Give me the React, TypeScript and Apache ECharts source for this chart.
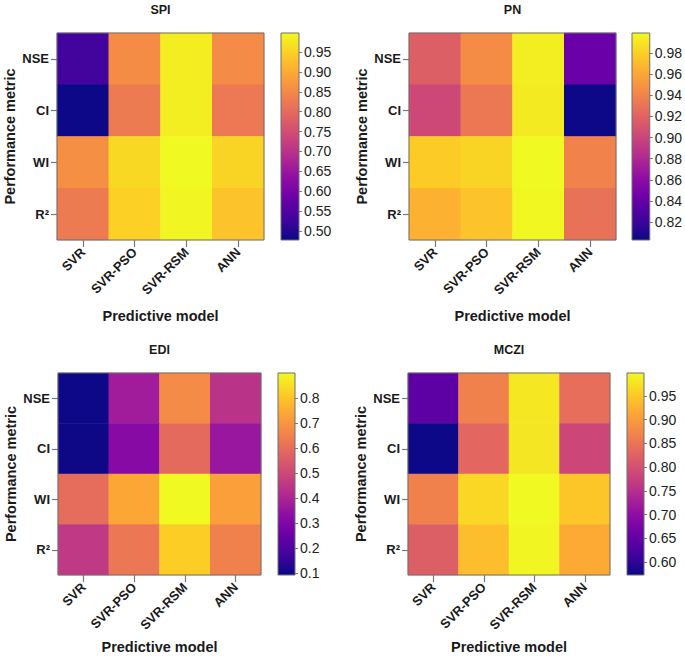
import React, { useEffect, useRef } from "react";
import * as echarts from "echarts";

const models = ["SVR", "SVR-PSO", "SVR-RSM", "ANN"];
const metrics = ["NSE", "CI", "WI", "R²"];

// rows follow metrics (NSE, CI, WI, R²), columns follow models
const spiValues = [
  [0.53, 0.854, 0.984, 0.852],
  [0.477, 0.827, 0.985, 0.822],
  [0.859, 0.958, 0.998, 0.953],
  [0.827, 0.948, 0.993, 0.932],
];
const pnValues = [
  [0.917, 0.945, 0.994, 0.842],
  [0.902, 0.933, 0.992, 0.803],
  [0.978, 0.982, 0.999, 0.939],
  [0.965, 0.974, 0.998, 0.929],
];
const ediValues = [
  [0.092, 0.375, 0.674, 0.44],
  [0.093, 0.318, 0.593, 0.359],
  [0.6, 0.738, 0.9, 0.722],
  [0.456, 0.625, 0.82, 0.65],
];
const mcziValues = [
  [0.645, 0.866, 0.981, 0.841],
  [0.573, 0.832, 0.979, 0.786],
  [0.866, 0.964, 0.998, 0.947],
  [0.82, 0.938, 0.994, 0.917],
];

const spiTicks = [0.5, 0.55, 0.6, 0.65, 0.7, 0.75, 0.8, 0.85, 0.9, 0.95];
const pnTicks = [0.82, 0.84, 0.86, 0.88, 0.9, 0.92, 0.94, 0.96, 0.98];
const ediTicks = [0.1, 0.2, 0.3, 0.4, 0.5, 0.6, 0.7, 0.8];
const mcziTicks = [0.6, 0.65, 0.7, 0.75, 0.8, 0.85, 0.9, 0.95];

const titles = ["SPI", "PN", "EDI", "MCZI"];

const plasma = [
  "#0d0887", "#41049d", "#6a00a8", "#8f0da4", "#b12a90", "#cc4778",
  "#e16462", "#f2844b", "#fca636", "#fcce25", "#f0f921",
];

const FONT = "'Liberation Sans', Arial, Helvetica, sans-serif";

export default function App() {
  const ref = useRef<HTMLDivElement>(null);
  useEffect(() => {
    if (!ref.current) return;
    const chart = echarts.init(ref.current, undefined, { renderer: "svg" });

    const panels = [
      { values: spiValues, ticks: spiTicks, dec: 2, grid: { left: 57, top: 33, width: 207, height: 207 }, bar: { left: 281, width: 18 }, nameGapX: 68, nameGapY: 40 },
      { values: pnValues, ticks: pnTicks, dec: 2, grid: { left: 409, top: 33, width: 207, height: 207 }, bar: { left: 632, width: 18 }, nameGapX: 68, nameGapY: 40 },
      { values: ediValues, ticks: ediTicks, dec: 1, grid: { left: 58, top: 373, width: 203, height: 202 }, bar: { left: 278, width: 17 }, nameGapX: 64, nameGapY: 40 },
      { values: mcziValues, ticks: mcziTicks, dec: 2, grid: { left: 408, top: 373, width: 202, height: 202 }, bar: { left: 627, width: 17 }, nameGapX: 64, nameGapY: 40 },
    ];

    const grids: any[] = [];
    const xAxes: any[] = [];
    const yAxes: any[] = [];
    const series: any[] = [];
    const visualMaps: any[] = [];
    const titleOpts: any[] = [];

    const gradStops = plasma.map((c, i) => ({ offset: i / (plasma.length - 1), color: c }));

    panels.forEach((p, i) => {
      const flat = p.values.flat();
      const vmin = Math.min(...flat);
      const vmax = Math.max(...flat);
      const data: any[] = [];
      p.values.forEach((row, r) => row.forEach((v, c) => data.push([c, r, v])));

      // heatmap grid
      grids.push({ ...p.grid, show: true, borderColor: "#6e6e6e", borderWidth: 1, backgroundColor: "transparent", z: 5 });
      const gi = grids.length - 1;
      xAxes.push({
        type: "category", gridIndex: gi, data: models,
        axisLine: { show: false },
        axisTick: { show: true, alignWithLabel: true, length: 7, lineStyle: { color: "#777", width: 1.2 } },
        axisLabel: { rotate: 45, margin: 10, fontSize: 13, fontWeight: "bold", color: "#1a1a1a", fontFamily: FONT },
        name: "Predictive model", nameLocation: "middle", nameGap: p.nameGapX,
        nameTextStyle: { fontSize: 14.5, fontWeight: "bold", color: "#1a1a1a", fontFamily: FONT },
        splitLine: { show: false },
      });
      yAxes.push({
        type: "category", gridIndex: gi, data: metrics, inverse: true,
        axisLine: { show: false },
        axisTick: { show: true, alignWithLabel: true, length: 6, lineStyle: { color: "#777", width: 1.2 } },
        axisLabel: { margin: 8, fontSize: 13, fontWeight: "bold", color: "#1a1a1a", fontFamily: FONT },
        name: "Performance metric", nameLocation: "middle", nameGap: p.nameGapY,
        nameTextStyle: { fontSize: 14.5, fontWeight: "bold", color: "#1a1a1a", fontFamily: FONT },
        splitLine: { show: false },
      });
      series.push({
        type: "heatmap", xAxisIndex: xAxes.length - 1, yAxisIndex: yAxes.length - 1,
        data, itemStyle: { borderWidth: 0 }, z: 2, emphasis: { disabled: true },
      });
      visualMaps.push({
        type: "continuous", show: false, seriesIndex: series.length - 1, dimension: 2,
        min: vmin, max: vmax, inRange: { color: plasma },
      });

      // colorbar grid
      grids.push({
        left: p.bar.left, top: p.grid.top, width: p.bar.width, height: p.grid.height,
        show: true, borderColor: "#6e6e6e", borderWidth: 1,
        backgroundColor: { type: "linear", x: 0, y: 1, x2: 0, y2: 0, colorStops: gradStops },
      });
      const bi = grids.length - 1;
      xAxes.push({ type: "category", gridIndex: bi, data: [""], show: false });
      yAxes.push({
        type: "value", gridIndex: bi, position: "right", min: vmin, max: vmax,
        axisLine: { show: false },
        splitLine: { show: false },
        axisTick: { show: true, length: 3, customValues: p.ticks, lineStyle: { color: "#777" } },
        axisLabel: {
          customValues: p.ticks, margin: 5, fontSize: 14, color: "#222", fontFamily: FONT,
          formatter: (v: number) => v.toFixed(p.dec),
        },
      });

      titleOpts.push({
        text: titles[i], left: p.grid.left + p.grid.width / 2, top: p.grid.top - 30,
        textAlign: "center", padding: 0,
        textStyle: { fontSize: 12.5, fontWeight: "bold", color: "#1a1a1a", fontFamily: FONT },
      });
    });

    chart.setOption({
      animation: false,
      backgroundColor: "#ffffff",
      textStyle: { fontFamily: FONT },
      title: titleOpts,
      grid: grids,
      xAxis: xAxes,
      yAxis: yAxes,
      visualMap: visualMaps,
      series,
    });
    return () => chart.dispose();
  }, []);
  return (
    <div
      ref={ref}
      style={{ position: "fixed", left: 0, top: 0, width: 685, height: 656 }}
    />
  );
}
